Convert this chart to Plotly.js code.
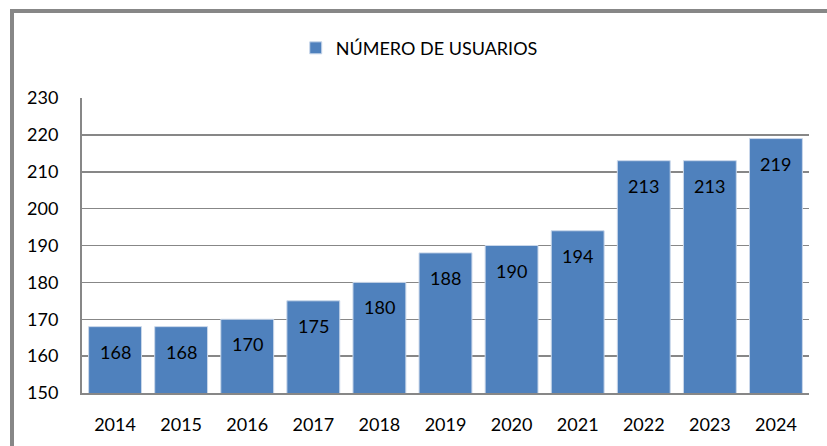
<!DOCTYPE html>
<html>
<head>
<meta charset="utf-8">
<script src="https://cdn.plot.ly/plotly-3.0.1.min.js"></script>
<style>
  html, body { margin: 0; padding: 0; background: #ffffff; }
  #wrap { position: relative; width: 827px; height: 446px; overflow: hidden; }
  #chart { width: 827px; height: 446px; }
  #frame { position: absolute; left: 10px; top: 9px; width: 900px; height: 500px;
           border-left: 4px solid #878787; border-top: 4px solid #878787; pointer-events: none; }
</style>
</head>
<body>
<div id="wrap">
  <div id="chart"></div>
  <div id="frame"></div>
</div>
<script>
const years = ['2014','2015','2016','2017','2018','2019','2020','2021','2022','2023','2024'];
const usuarios = [168, 168, 170, 175, 180, 188, 190, 194, 213, 213, 219];
const seriesName = 'NÚMERO DE USUARIOS';
const yTicks = [150, 160, 170, 180, 190, 200, 210, 220, 230];

const FONT = 'Lato, "Liberation Sans", sans-serif';

const trace = {
  type: 'bar',
  x: years,
  y: usuarios,
  name: seriesName,
  marker: { color: '#4F81BD', line: { color: '#C9D7EA', width: 1 } },
  showlegend: true,
  hoverinfo: 'x+y'
};

const annotations = years.map((yr, i) => ({
  x: i, y: usuarios[i], xref: 'x', yref: 'y',
  text: String(usuarios[i]), showarrow: false,
  yanchor: 'middle', yshift: -25,
  font: { family: FONT, size: 18, color: '#000000' }
}));

const layout = {
  width: 827, height: 446,
  margin: { l: 82, r: 18, t: 98, b: 53 },
  paper_bgcolor: '#ffffff', plot_bgcolor: '#ffffff',
  font: { family: FONT, size: 18, color: '#000000' },
  bargap: 0.2,
  showlegend: true,
  legend: {
    orientation: 'h', x: 0.294, xanchor: 'left', y: 1.169, yanchor: 'middle',
    font: { family: FONT, size: 18, color: '#000000' }, bgcolor: 'rgba(0,0,0,0)'
  },
  xaxis: {
    type: 'category', categoryorder: 'array', categoryarray: years,
    range: [-0.5, years.length - 0.5], autorange: false,
    showgrid: false, zeroline: false,
    showline: true, linecolor: '#878787', linewidth: 2,
    ticks: '', ticklabelstandoff: 14,
    tickfont: { family: FONT, size: 18, color: '#000000' }
  },
  yaxis: {
    range: [150, 230], autorange: false, tickvals: yTicks, ticktext: yTicks.map(String),
    showgrid: true, gridcolor: '#878787', gridwidth: 1.5,
    zeroline: false, showline: true, linecolor: '#878787', linewidth: 2,
    ticks: '', ticklabelstandoff: 18,
    tickfont: { family: FONT, size: 18, color: '#000000' }
  },
  annotations: annotations
};

Plotly.newPlot('chart', [trace], layout, { displayModeBar: false, staticPlot: true });
</script>
</body>
</html>
